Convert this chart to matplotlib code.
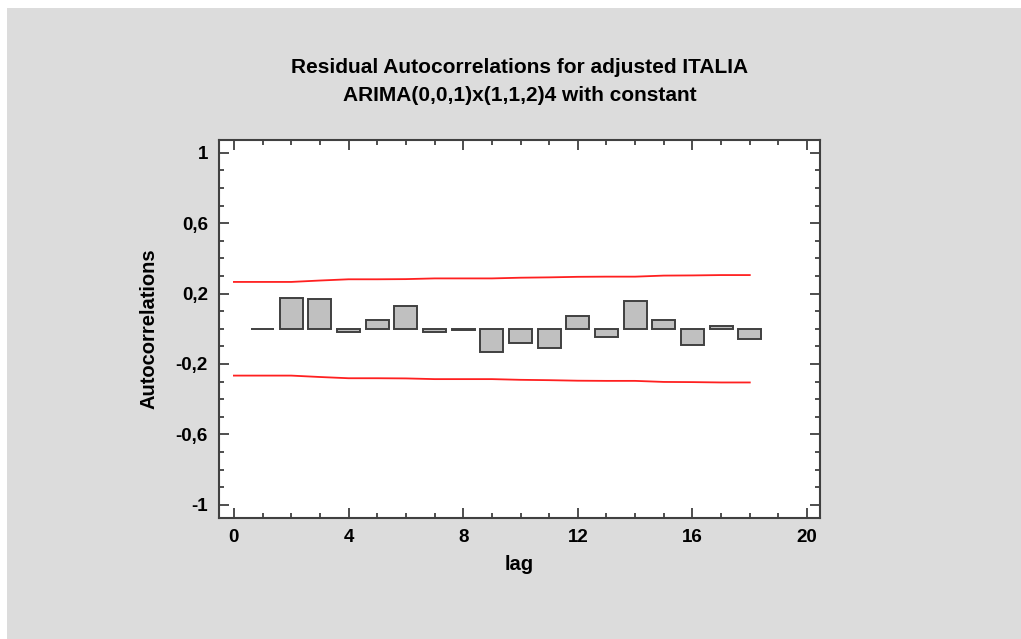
import matplotlib
matplotlib.use("Agg")
import matplotlib.pyplot as plt
from matplotlib.patches import Rectangle
from matplotlib.ticker import MultipleLocator

# ---- data ----
lags = [1, 2, 3, 4, 5, 6, 7, 8, 9, 10, 11, 12, 13, 14, 15, 16, 17, 18]
autocorr = [0.001, 0.174, 0.168, -0.021, 0.051, 0.130, -0.021, -0.005, -0.130,
            -0.079, -0.109, 0.072, -0.044, 0.160, 0.051, -0.095, 0.013, -0.058]
limit_lags = [0, 1, 2, 3, 4, 5, 6, 7, 8, 9, 10, 11, 12, 13, 14, 15, 16, 17, 18]
upper_limit = [0.266, 0.266, 0.266, 0.274, 0.281, 0.281, 0.282, 0.286, 0.286, 0.286,
               0.290, 0.292, 0.295, 0.296, 0.296, 0.302, 0.303, 0.305, 0.305]
lower_limit = [-v for v in upper_limit]
x_ticks = [0, 4, 8, 12, 16, 20]
x_ticklabels = ["0", "4", "8", "12", "16", "20"]
y_ticks = [1, 0.6, 0.2, -0.2, -0.6, -1]
y_ticklabels = ["1", "0,6", "0,2", "-0,2", "-0,6", "-1"]
title = "Residual Autocorrelations for adjusted ITALIA\nARIMA(0,0,1)x(1,1,2)4 with constant"
x_label = "lag"
y_label = "Autocorrelations"

plt.rcParams['font.family'] = ['Liberation Sans', 'DejaVu Sans']
plt.rcParams['font.weight'] = 'bold'

W, H = 1021, 639
fig = plt.figure(figsize=(W / 100, H / 100), dpi=100)
fig.patch.set_facecolor("white")
bg = Rectangle((7 / W, 0), 1 - 7 / W, 1 - 8 / H, transform=fig.transFigure,
               facecolor="#dcdcdc", edgecolor="none", zorder=-10)
fig.add_artist(bg)

left, right, top, bottom = 219, 820, 139.5, 517.5
ax = fig.add_axes([left / W, 1 - bottom / H, (right - left) / W, (bottom - top) / H])
ax.set_zorder(1)
ax.set_facecolor("white")

frame_col = "#404040"
ax.bar(lags, autocorr, width=0.8, color="#c0c0c0", edgecolor=frame_col, linewidth=1.4, zorder=3)
ax.plot(limit_lags, upper_limit, color="#ff2020", lw=1.3, zorder=2)
ax.plot(limit_lags, lower_limit, color="#ff2020", lw=1.3, zorder=2)

ax.set_xlim(-0.52, 20.45)
ax.set_ylim(-1.072, 1.075)

for s in ax.spines.values():
    s.set_color(frame_col)
    s.set_linewidth(1.5)

ax.set_xticks(x_ticks)
ax.set_xticklabels(x_ticklabels)
ax.set_yticks(y_ticks)
ax.set_yticklabels(y_ticklabels)
ax.xaxis.set_minor_locator(MultipleLocator(1))
ax.yaxis.set_minor_locator(MultipleLocator(0.1))
ax.tick_params(which="both", direction="in", top=True, right=True, color=frame_col, width=1.3)
ax.tick_params(which="major", length=7.5, labelsize=13.5, pad=8)
ax.tick_params(which="minor", length=3.5)
for lab in ax.get_xticklabels() + ax.get_yticklabels():
    lab.set_fontweight("bold")

ax.set_xlabel(x_label, fontsize=14.5, fontweight="bold", labelpad=7)
ax.set_ylabel(y_label, fontsize=14.5, fontweight="bold", labelpad=12)
fig.text((left + right) / 2 / W, 1 - 81.5 / H, title, ha="center", va="center",
         fontsize=15, fontweight="bold", linespacing=1.62)

fig.savefig("out.png", dpi=100)
